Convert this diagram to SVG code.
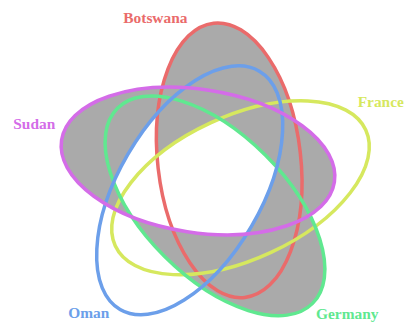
<svg xmlns="http://www.w3.org/2000/svg" width="406" height="325" viewBox="0 0 406 325">
<style>
.lbl{font-family:"Liberation Serif","Times New Roman",serif;font-weight:bold;font-size:15.4px}
.ring{fill:none;stroke-width:3.5}
.shade{fill:#aaaaaa}
.blank{fill:#ffffff}
</style>
<defs>
<ellipse id="eB" cx="229.2" cy="160.3" rx="138" ry="71.5" transform="rotate(83.5 229.2 160.3)"/>
<ellipse id="eF" cx="240.5" cy="187.8" rx="138" ry="71.5" transform="rotate(-24.8 240.5 187.8)"/>
<ellipse id="eG" cx="215" cy="205.8" rx="138" ry="71.5" transform="rotate(45 215 205.8)"/>
<ellipse id="eO" cx="189.7" cy="190.3" rx="138" ry="71.5" transform="rotate(120.3 189.7 190.3)"/>
<ellipse id="eS" cx="198" cy="161" rx="138" ry="71.5" transform="rotate(8.7 198 161)"/>
<clipPath id="cS"><use href="#eS"/></clipPath>
<clipPath id="cG"><use href="#eG"/></clipPath>
<clipPath id="cO"><use href="#eO"/></clipPath>
</defs>
<rect width="406" height="325" fill="#ffffff"/>
<g id="shading">
<use href="#eB" class="shade"/>
<use href="#eS" class="shade"/>
<use href="#eG" class="shade"/>
<g clip-path="url(#cS)"><g clip-path="url(#cG)"><g clip-path="url(#cO)">
<rect width="406" height="325" class="blank"/>
<use href="#eB" class="shade"/>
<use href="#eF" class="blank"/>
</g></g></g>
</g>
<g id="connectors"></g>
<g id="botswana"><use href="#eB" class="ring" stroke="#ea6b6b"/><text class="lbl" x="123.3" y="23.3" fill="#ea6b6b">Botswana</text></g>
<g id="france"><use href="#eF" class="ring" stroke="#d6e85e"/><text class="lbl" x="357.7" y="107.3" fill="#d6e85e">France</text></g>
<g id="germany"><use href="#eG" class="ring" stroke="#60e890"/><text class="lbl" x="316" y="319.3" fill="#60e890">Germany</text></g>
<g id="oman"><use href="#eO" class="ring" stroke="#6c9fea"/><text class="lbl" x="68.3" y="318.3" fill="#6c9fea">Oman</text></g>
<g id="sudan"><use href="#eS" class="ring" stroke="#d46ce8"/><text class="lbl" x="13.3" y="129.3" fill="#d46ce8">Sudan</text></g>
</svg>
